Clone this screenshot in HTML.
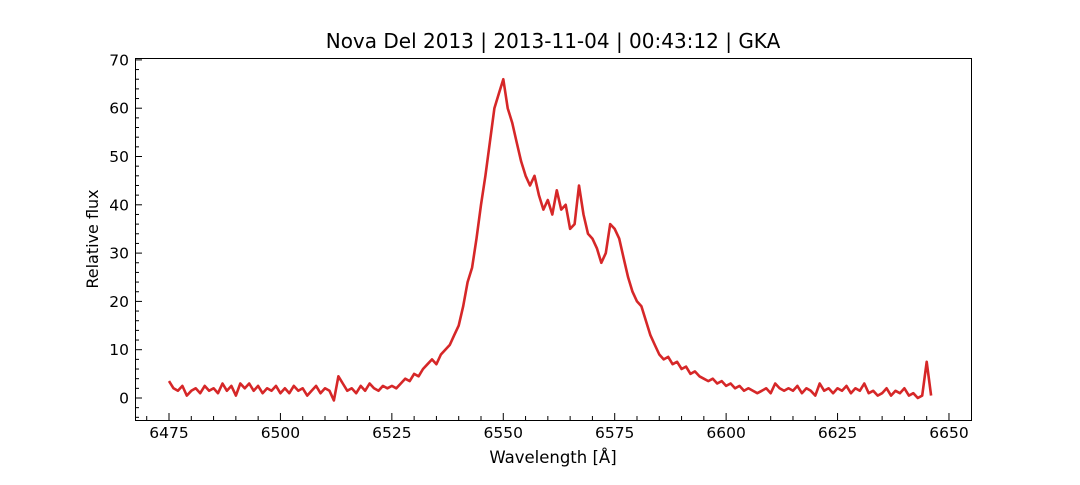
<!DOCTYPE html>
<html><head><meta charset="utf-8"><style>
body{margin:0;background:#fff;}
svg text{font-family:"DejaVu Sans","Liberation Sans",sans-serif;fill:#000;}
</style></head><body>
<svg id="chart" width="1080" height="480">
<text x="553" y="48" font-size="20" text-anchor="middle">Nova Del 2013 | 2013-11-04 | 00:43:12 | GKA</text>
<text x="553" y="463" font-size="16.5" text-anchor="middle">Wavelength [Å]</text>
<text transform="translate(98,239) rotate(-90)" font-size="16" text-anchor="middle">Relative flux</text>
<g id="ticks"></g>
<g id="plot"></g>
<rect x="135.5" y="58.5" width="836" height="362" fill="none" stroke="#000" stroke-width="1"/>
</svg>
<script>
const startWl = 6475;
const flux = [3.5,2,1.5,2.5,0.5,1.5,2,1,2.5,1.5,
2,1,3,1.5,2.5,0.5,3,2,3,1.5,
2.5,1,2,1.5,2.5,1,2,1,2.5,1.5,
2,0.5,1.5,2.5,1,2,1.5,-0.5,4.5,3,
1.5,2,1,2.5,1.5,3,2,1.5,2.5,2,
2.5,2,3,4,3.5,5,4.5,6,7,8,
7,9,10,11,13,15,19,24,27,33,
40,46,53,60,63,66,60,57,53,49,
46,44,46,42,39,41,38,43,39,40,
35,36,44,38,34,33,31,28,30,36,
35,33,29,25,22,20,19,16,13,11,
9,8,8.5,7,7.5,6,6.5,5,5.5,4.5,
4,3.5,4,3,3.5,2.5,3,2,2.5,1.5,
2,1.5,1,1.5,2,1,3,2,1.5,2,
1.5,2.5,1,2,1.5,0.5,3,1.5,2,1,
2,1.5,2.5,1,2,1.5,3,1,1.5,0.5,
1,2,0.5,1.5,1,2,0.5,1,0,0.5,
7.5,0.5];
const xTicks = [6475,6500,6525,6550,6575,6600,6625,6650];
const yTicks = [0,10,20,30,40,50,60,70];

const X = w => 169 + (w - 6475) * 4.457;
const Y = v => 398 - v * 4.83;
const NS = "http://www.w3.org/2000/svg";
const tg = document.getElementById('ticks');
const pg = document.getElementById('plot');
function mk(tag, attrs, parent){const e=document.createElementNS(NS,tag);for(const k in attrs)e.setAttribute(k,attrs[k]);parent.appendChild(e);return e;}

for (let w = 6470; w <= 6650; w += 5) {
  const major = xTicks.includes(w);
  const t = mk('line',{x1:X(w),x2:X(w),y1:420,y2:major?413:416,stroke:'#000','stroke-width':1},tg);
  
  
}
xTicks.forEach(w => {
  const t = mk('text',{x:X(w),y:438,'font-size':15.5,'text-anchor':'middle'},tg);
  t.textContent = w;
  
  
});
for (let v = -4; v <= 70; v += 2) {
  const major = yTicks.includes(v);
  const t = mk('line',{x1:135,x2:major?142:139,y1:Y(v),y2:Y(v),stroke:'#000','stroke-width':1},tg);
  
  
}
yTicks.forEach(v => {
  const t = mk('text',{x:129,y:Y(v)+5.5,'font-size':15.5,'text-anchor':'end'},tg);
  t.textContent = v;
  
  
});
const d = flux.map((v,i) => (i?'L':'M') + X(startWl + i).toFixed(1) + ',' + Y(v).toFixed(1)).join('');
const line = mk('path',{d:d,fill:'none',stroke:'#d62728','stroke-width':2.6,'stroke-linejoin':'round'},pg);


</script>
</body></html>
